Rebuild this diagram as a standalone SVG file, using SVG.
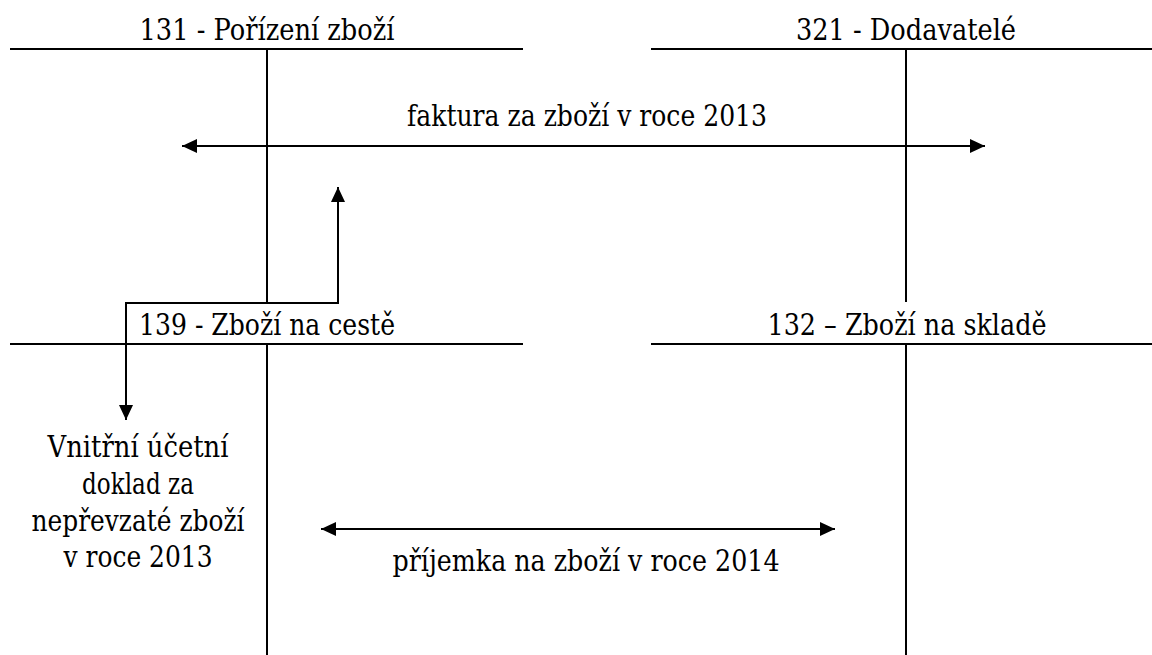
<svg xmlns="http://www.w3.org/2000/svg" width="1152" height="655" viewBox="0 0 1152 655">
<style>
.ln{stroke:#000;stroke-width:2;fill:none}
text{font-family:'DejaVu Serif','Liberation Serif',serif;font-size:29px;fill:#000;text-anchor:middle}
</style>
<defs>
<marker id="ah" viewBox="0 0 15 14" refX="15" refY="7" markerWidth="15" markerHeight="14" markerUnits="userSpaceOnUse" orient="auto-start-reverse">
<path d="M0,0 L15,7 L0,14 z" fill="#000"/>
</marker>
</defs>
<rect width="1152" height="655" fill="#fff"/>
<g id="acc131">
<line class="ln" x1="10" y1="49" x2="523" y2="49"/>
<line class="ln" x1="267" y1="49" x2="267" y2="303"/>
<text x="267" y="40" textLength="255" lengthAdjust="spacingAndGlyphs">131 - Pořízení zboží</text>
</g>
<g id="acc321">
<line class="ln" x1="651" y1="49" x2="1152" y2="49"/>
<line class="ln" x1="906" y1="49" x2="906" y2="302"/>
<text x="906" y="40" textLength="220" lengthAdjust="spacingAndGlyphs">321 - Dodavatelé</text>
</g>
<g id="acc139">
<line class="ln" x1="10" y1="344" x2="523" y2="344"/>
<line class="ln" x1="267" y1="344" x2="267" y2="655"/>
<text x="267" y="335" textLength="256" lengthAdjust="spacingAndGlyphs">139 - Zboží na cestě</text>
</g>
<g id="acc132">
<line class="ln" x1="651" y1="344" x2="1152" y2="344"/>
<line class="ln" x1="906" y1="344" x2="906" y2="655"/>
<text x="907" y="335" textLength="279" lengthAdjust="spacingAndGlyphs">132 – Zboží na skladě</text>
</g>
<g id="doc">
<text x="138" y="457" textLength="181" lengthAdjust="spacingAndGlyphs">Vnitřní účetní</text>
<text x="138" y="494" textLength="112" lengthAdjust="spacingAndGlyphs">doklad za</text>
<text x="138" y="531" textLength="213" lengthAdjust="spacingAndGlyphs">nepřevzaté zboží</text>
<text x="138" y="567" textLength="149" lengthAdjust="spacingAndGlyphs">v roce 2013</text>
</g>
<g id="connectors">
<line class="ln" x1="182" y1="146" x2="985" y2="146" marker-start="url(#ah)" marker-end="url(#ah)"/>
<text x="587" y="126" textLength="360" lengthAdjust="spacingAndGlyphs">faktura za zboží v roce 2013</text>
<path class="ln" d="M338,187 L338,303 L126,303 L126,420" marker-start="url(#ah)" marker-end="url(#ah)"/>
<line class="ln" x1="321" y1="529" x2="835" y2="529" marker-start="url(#ah)" marker-end="url(#ah)"/>
<text x="586" y="571" textLength="387" lengthAdjust="spacingAndGlyphs">příjemka na zboží v roce 2014</text>
</g>
</svg>
